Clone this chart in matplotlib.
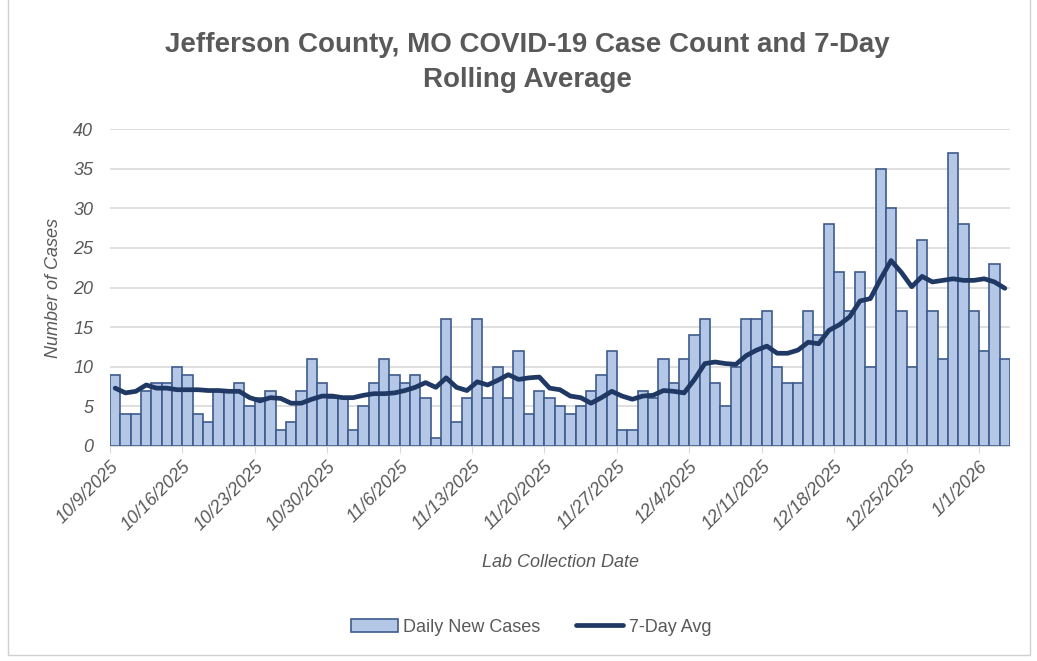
import numpy as np
import matplotlib
matplotlib.use("Agg")
import matplotlib.pyplot as plt
from matplotlib.patches import Rectangle

plt.rcParams['font.family'] = ['Liberation Sans', 'DejaVu Sans']

# daily counts, one per day starting 10/9/2025
daily_cases = [9, 4, 4, 7, 8, 8, 10, 9, 4, 3, 7, 7, 8, 5,
               6, 7, 2, 3, 7, 11, 8, 6, 6, 2, 5, 8, 11, 9,
               8, 9, 6, 1, 16, 3, 6, 16, 6, 10, 6, 12, 4, 7,
               6, 5, 4, 5, 7, 9, 12, 2, 2, 7, 6, 11, 8, 11,
               14, 16, 8, 5, 10, 16, 16, 17, 10, 8, 8, 17, 14, 28,
               22, 17, 22, 10, 35, 30, 17, 10, 26, 17, 11, 37, 28, 17,
               12, 23, 11]

avg_7day = [7.3, 6.7, 6.9, 7.7, 7.3, 7.3, 7.1, 7.1, 7.1, 7.0, 7.0, 6.9, 6.9, 6.1,
            5.7, 6.1, 6.0, 5.4, 5.4, 5.9, 6.3, 6.3, 6.1, 6.1, 6.4, 6.6, 6.6, 6.7,
            7.0, 7.4, 8.0, 7.4, 8.6, 7.4, 7.0, 8.1, 7.7, 8.3, 9.0, 8.4, 8.6, 8.7,
            7.3, 7.1, 6.3, 6.1, 5.4, 6.1, 6.9, 6.3, 5.9, 6.3, 6.4, 7.0, 6.9, 6.7,
            8.4, 10.4, 10.6, 10.4, 10.3, 11.4, 12.1, 12.6, 11.7, 11.7, 12.1, 13.1, 12.9, 14.6,
            15.3, 16.3, 18.3, 18.6, 21.1, 23.4, 21.9, 20.1, 21.4, 20.7, 20.9, 21.1, 20.9, 20.9,
            21.1, 20.7, 19.9]

week_labels = ['10/9/2025', '10/16/2025', '10/23/2025', '10/30/2025', '11/6/2025',
               '11/13/2025', '11/20/2025', '11/27/2025', '12/4/2025', '12/11/2025',
               '12/18/2025', '12/25/2025', '1/1/2026']

grey = '#595959'
n = len(daily_cases)
x = np.arange(n) + 0.5

fig = plt.figure(figsize=(10.37, 6.61), dpi=100)
ax = fig.add_axes([110 / 1037, 1 - 446 / 661, 900 / 1037, 317 / 661])

bars = ax.bar(x, daily_cases, width=1.0, color='#B4C7E7', edgecolor='#3E5B8C',
              linewidth=1.2, label='Daily New Cases', zorder=2)
line, = ax.plot(x, avg_7day, color='#1F3864', lw=3.4, label='7-Day Avg',
                solid_joinstyle='round', solid_capstyle='round', zorder=3)

ax.set_xlim(0, n)
ax.set_ylim(0, 40)
ax.set_yticks(range(0, 41, 5))
ax.yaxis.grid(True, color='#D9D9D9', lw=1.2, zorder=0)
ax.set_axisbelow(True)
for s in ['left', 'top', 'right']:
    ax.spines[s].set_visible(False)
ax.spines['bottom'].set_color('#D9D9D9')

ax.set_xticks(np.arange(0, n, 7))
ax.set_xticklabels(week_labels, rotation=45, ha='right', va='top',
                   rotation_mode='anchor', fontstyle='italic', fontsize=13, color=grey)
ax.tick_params(axis='x', length=5, color='#D9D9D9', pad=4)
ax.tick_params(axis='y', length=0, pad=12, labelsize=13, labelcolor=grey)
for t in ax.get_yticklabels():
    t.set_fontstyle('italic')

ax.set_ylabel('Number of Cases', fontsize=13, fontstyle='italic', color=grey, labelpad=8)
ax.set_xlabel('Lab Collection Date', fontsize=13, fontstyle='italic', color=grey, labelpad=14)

fig.text(527 / 1037, 1 - 45 / 661, 'Jefferson County, MO COVID-19 Case Count and 7-Day',
         ha='center', va='center', fontsize=20, fontweight='bold', color=grey)
fig.text(527 / 1037, 1 - 80 / 661, 'Rolling Average',
         ha='center', va='center', fontsize=20, fontweight='bold', color=grey)

fig.legend([bars, line], ['Daily New Cases', '7-Day Avg'], loc='center',
           bbox_to_anchor=(531 / 1037, 1 - 627 / 661), ncol=2,
           frameon=False, fontsize=13, labelcolor=grey, handlelength=2.6,
           handleheight=0.7, columnspacing=2.0, handletextpad=0.3)

fig.add_artist(Rectangle((8 / 1037, 6 / 661), 1022 / 1037, 1.0, transform=fig.transFigure,
                         fill=False, edgecolor='#D0D0D0', lw=1.0))

fig.savefig('out.png', dpi=100)
